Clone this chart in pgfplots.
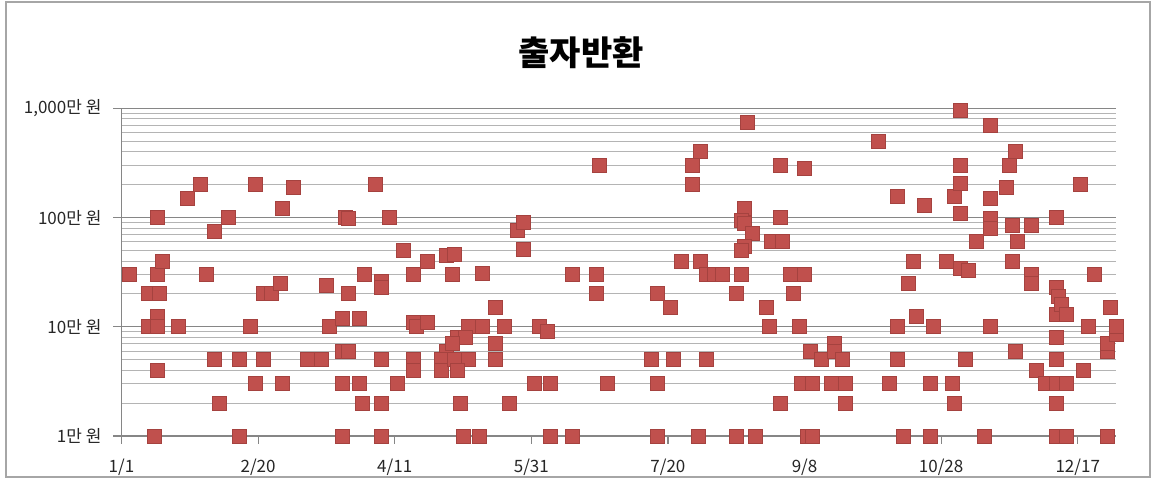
\documentclass[border=0pt]{standalone}
\usepackage{fontspec}
\setmainfont{Noto Sans CJK KR}
\usepackage{pgfplots}
\pgfplotsset{compat=1.18}
\definecolor{mk}{HTML}{C0504D}
\definecolor{mkb}{HTML}{A5423F}
\definecolor{gridmaj}{HTML}{868686}
\definecolor{gridmin}{HTML}{B4B4B4}
\begin{document}
\begin{tikzpicture}
\path[use as bounding box] (-60.75pt,-24pt) rectangle (517.25pt,218pt);
\draw[black!35, line width=0.6pt] (-57.75pt,-20.5pt) rectangle (514.25pt,217pt);
\begin{axis}[
  scale only axis, width=497.25pt, height=163.85pt,
  xmin=1, xmax=365, ymode=log, ymin=1, ymax=1000,
  axis lines*=left, axis line style={gridmaj, line width=0.6pt, -},
  xtick={1,51,101,151,201,251,301,351},
  xticklabels={1/1,2/20,4/11,5/31,7/20,9/8,10/28,12/17},
  ytick={1,10,100,1000},
  yticklabels={1만 원,10만 원,100만 원,{1,000만 원}},
  tick align=outside, major tick length=4pt, minor tick length=0pt,
  tick style={gridmaj, line width=0.6pt},
  ymajorgrids, yminorgrids,
  major grid style={gridmaj, line width=0.6pt},
  minor grid style={gridmin, line width=0.5pt},
  ticklabel style={font=\fontsize{8.5pt}{10pt}\selectfont, text=black!85},
  xticklabel style={yshift=-4pt},
  yticklabel style={xshift=-2.5pt},
  clip=false,
]
\addplot[only marks, mark=square*, mark size=3.5pt, mark options={fill=mk, draw=mkb, line width=0.4pt}] table {
x y
4 30
11 20
15 20
14 30
16 40
14 100
25 150
30 200
40 100
35 75
32 30
14 12.5
11 10
14 10
22 10
14 4
35 5
44 5
37 2
13 1
44 1
50 200
48 10
50 3
53 20
56 20
59 25
60 120
64 190
53 5
60 3
69 5
74 5
76 24
77 10
82 12
88 12
84 20
82 6
84 6
82 3
88 3
89 2
82 1
83 100
84 98
94 200
99 100
104 50
90 30
96 26
96 23
96 5
96 2
96 1
102 3
108 30
113 40
120 45
123 46
122 30
133 31
108 11
109 10
113 11
138 15
128 10
133 10
141 10
154 10
157 9
124 8
127 8
120 6
122 7
138 7
108 5
108 4
118 5
118 4
123 5
128 5
124 4
138 5
152 3
158 3
125 2
143 2
126 1
132 1
158 1
146 76
148 91
148 51
166 30
175 30
175 20
176 300
179 3
166 1
197 20
202 15
195 5
203 5
197 3
197 1
206 40
210 300
210 200
213 400
213 40
215 30
218 30
221 30
215 5
212 1
230 750
229 120
228 95
229 88
232 72
229 54
228 50
228 30
226 20
226 1
233 1
237 15
238 10
239 60
243 60
242 100
242 300
242 2
246 30
247 20
249 10
251 280
251 30
250 3
254 3
253 6
257 5
252 1
254 1
262 7
262 6
261 3
265 5
266 3
266 2
278 500
282 3
285 155
285 10
285 5
287 1
289 25
291 40
292 12.5
295 130
297 3
297 1
298 10
303 40
305 3
306 2
306 155
308 950
308 300
308 205
308 110
308 34
311 33
310 5
314 60
317 1
319 700
319 150
319 98
319 80
319 10
325 190
326 300
328 400
327 85
327 40
329 60
328 6
334 85
334 30
334 25
336 4
339 3
343 100
343 23
343 13
343 8
343 5
343 3
343 2
343 1
344 19
345 16
347 13
347 3
347 1
352 200
353 4
355 10
357 30
362 1
363 15
362 6
362 7
365 8.5
365 10
};
\end{axis}
\node[font=\bfseries\fontsize{17pt}{20pt}\selectfont] at (229.75pt,191.5pt) {출자반환};
\end{tikzpicture}
\end{document}
